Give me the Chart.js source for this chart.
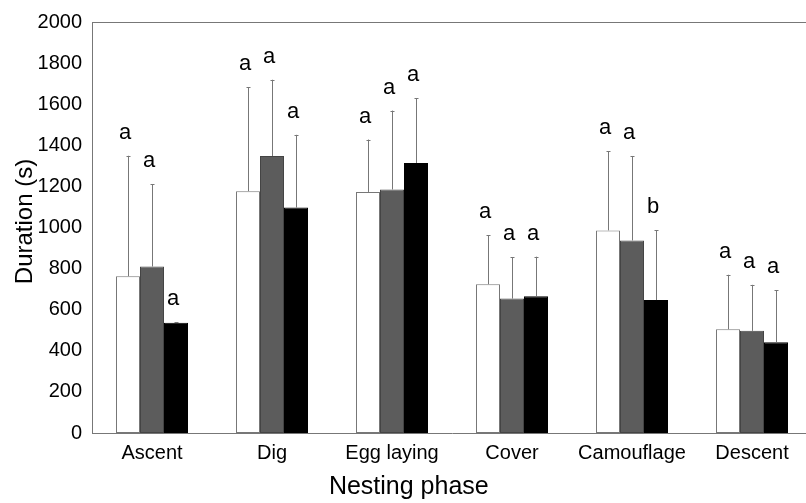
<!DOCTYPE html>
<html>
<head>
<meta charset="utf-8">
<script src="https://cdn.jsdelivr.net/npm/chart.js@4/dist/chart.umd.min.js"></script>
<style>
  html, body { margin: 0; padding: 0; background: #fff; overflow: hidden; }
  #wrap { position: relative; width: 812px; height: 503px; }
</style>
</head>
<body>
<div id="wrap"><canvas id="c"></canvas></div>
<script>
const categories = ["Ascent", "Dig", "Egg laying", "Cover", "Camouflage", "Descent"];
const yTicks = [0, 200, 400, 600, 800, 1000, 1200, 1400, 1600, 1800, 2000];

const series1 = [763, 1177, 1173, 724, 986, 505];
const series2 = [810, 1348, 1185, 654, 937, 497];
const series3 = [537, 1097, 1314, 666, 647, 441];

const err1 = [586, 505, 255, 239, 384, 265];
const err2 = [400, 371, 384, 201, 411, 224];
const err3 = [3, 354, 316, 192, 339, 254];

const letters1 = ["a", "a", "a", "a", "a", "a"];
const letters2 = ["a", "a", "a", "a", "a", "a"];
const letters3 = ["a", "a", "a", "a", "b", "a"];

const errors = [err1, err2, err3];
const letters = [letters1, letters2, letters3];

const FONT = "'Liberation Sans', Arial, Helvetica, sans-serif";

const decorPlugin = {
  id: 'decor',
  afterDatasetsDraw(chart) {
    const ctx = chart.ctx;
    const ys = chart.scales.y;
    const area = chart.chartArea;
    ctx.save();
    ctx.strokeStyle = '#777';
    ctx.lineWidth = 1;
    ctx.beginPath();
    ctx.moveTo(area.left, Math.round(area.top) + 0.5);
    ctx.lineTo(area.right, Math.round(area.top) + 0.5);
    ctx.stroke();
    chart.data.datasets.forEach((ds, di) => {
      const meta = chart.getDatasetMeta(di);
      meta.data.forEach((bar, i) => {
        const v = ds.data[i];
        const top = ys.getPixelForValue(v + errors[di][i]);
        const x = Math.round(bar.x) + 0.5;
        ctx.strokeStyle = '#777';
        ctx.lineWidth = 1;
        ctx.beginPath();
        ctx.moveTo(x, bar.y);
        ctx.lineTo(x, top);
        ctx.moveTo(x - 2, Math.round(top) + 0.5);
        ctx.lineTo(x + 2, Math.round(top) + 0.5);
        ctx.stroke();
        ctx.fillStyle = '#000';
        ctx.font = '22px ' + FONT;
        ctx.textAlign = 'center';
        ctx.textBaseline = 'alphabetic';
        ctx.fillText(letters[di][i], bar.x - 3, top - 17);
      });
    });
    ctx.fillStyle = '#000';
    ctx.font = '25px ' + FONT;
    ctx.textAlign = 'center';
    ctx.textBaseline = 'alphabetic';
    ctx.fillText('Nesting phase', area.left + area.width * 0.44, 494);
    ctx.save();
    ctx.translate(32, (area.top + area.bottom) / 2 - 6);
    ctx.rotate(-Math.PI / 2);
    ctx.font = '24px ' + FONT;
    ctx.fillText('Duration (s)', 0, 0);
    ctx.restore();
    ctx.restore();
  }
};

new Chart(document.getElementById('c'), {
  type: 'bar',
  data: {
    labels: categories,
    datasets: [
      { data: series1, backgroundColor: '#ffffff', borderColor: '#777777', borderWidth: 1 },
      { data: series2, backgroundColor: '#5c5c5c', borderColor: '#444444', borderWidth: 1 },
      { data: series3, backgroundColor: '#000000', borderColor: '#000000', borderWidth: 1 }
    ]
  },
  options: {
    responsive: true,
    maintainAspectRatio: false,
    animation: false,
    devicePixelRatio: 1,
    layout: { padding: { top: 20, right: 0, left: 0, bottom: 0 } },
    plugins: { legend: { display: false }, tooltip: { enabled: false } },
    datasets: { bar: { categoryPercentage: 0.6, barPercentage: 1.0, borderSkipped: false } },
    scales: {
      x: {
        grid: { display: false, drawTicks: false },
        border: { display: true, color: '#777', width: 1 },
        ticks: { color: '#000', font: { size: 20, family: FONT }, padding: 8, maxRotation: 0 },
        afterFit(scale) { scale.height = 70; }
      },
      y: {
        min: 0, max: 2000,
        afterBuildTicks(scale) { scale.ticks = yTicks.map(v => ({ value: v })); },
        grid: { display: false, drawTicks: false },
        border: { display: true, color: '#777', width: 1 },
        ticks: {
          color: '#000', font: { size: 20, family: FONT }, padding: 10,
          callback: (v) => String(v)
        },
        afterFit(scale) { scale.width = 92; }
      }
    }
  },
  plugins: [decorPlugin]
});
</script>
</body>
</html>
